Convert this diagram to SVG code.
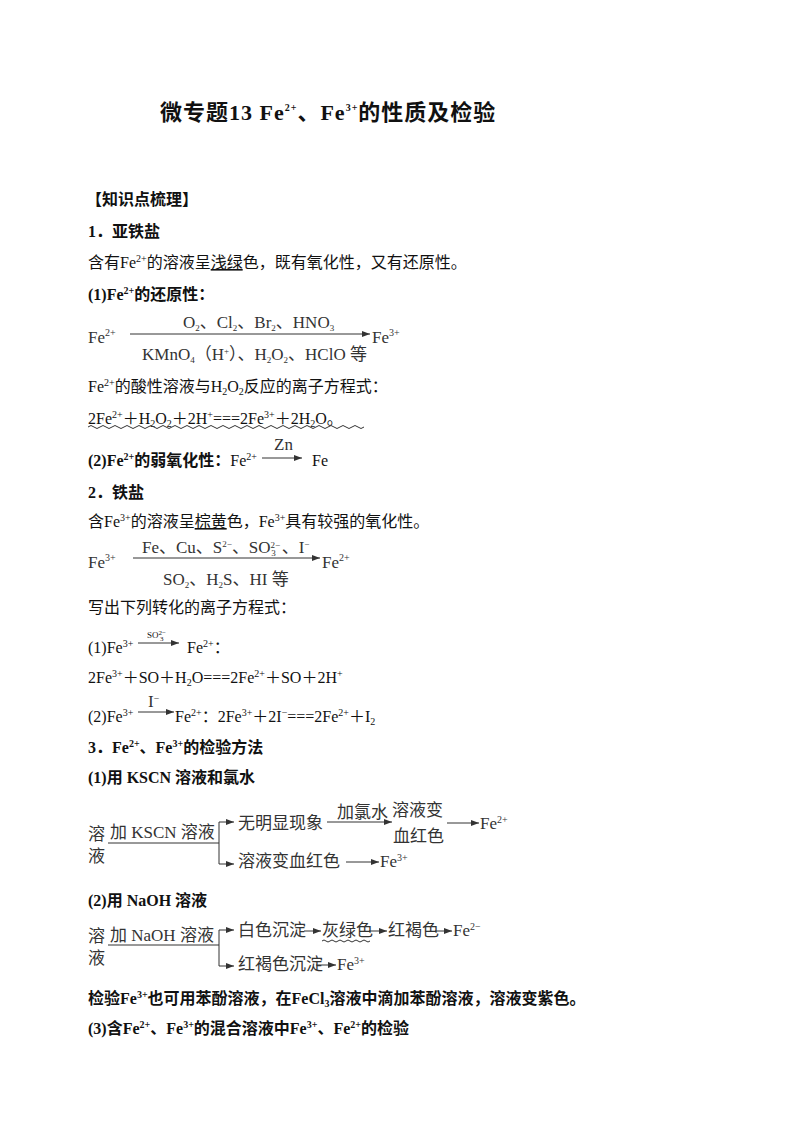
<svg xmlns="http://www.w3.org/2000/svg" width="800" height="1129" viewBox="0 0 800 1129">
<style>
text{font-family:"Liberation Serif","Noto Sans CJK SC",serif;font-size:16px;fill:#111}
.b{font-weight:bold}
.t{font-size:22px;font-weight:bold;letter-spacing:1px}
.d{font-size:17px;fill:#333}
.s{font-size:10px}
.x{font-size:9px}
.l{stroke:#333;stroke-width:1;fill:none}
</style>
<defs><marker id="a" markerWidth="8" markerHeight="6" refX="8" refY="3" orient="auto"><path d="M0,0 L8,3 L0,6 Z" fill="#333"/></marker></defs>
<rect width="800" height="1129" fill="#fff"/>
<g id="title"><text class="t" x="160" y="120">微专题13  Fe<tspan class="s" dy="-9">2+</tspan><tspan dy="9">、Fe</tspan><tspan class="s" dy="-9">3+</tspan><tspan dy="9">的性质及检验</tspan></text></g>
<g id="body">
<text class="b" x="86" y="205">【知识点梳理】</text>
<text class="b" x="88" y="237">1．亚铁盐</text>
<text x="88" y="268">含有Fe<tspan class="s" dy="-6">2+</tspan><tspan dy="6">的溶液呈</tspan><tspan text-decoration="underline">浅绿</tspan>色，既有氧化性，又有还原性。</text>
<text class="b" x="88" y="300">(1)Fe<tspan class="s" dy="-6">2+</tspan><tspan dy="6">的还原性：</tspan></text>
<text class="d" x="88" y="343">Fe<tspan class="s" dy="-7">2+</tspan></text>
<text class="d" x="183" y="328">O<tspan class="x" dy="3">2</tspan><tspan dy="-3">、Cl</tspan><tspan class="x" dy="3">2</tspan><tspan dy="-3">、Br</tspan><tspan class="x" dy="3">2</tspan><tspan dy="-3">、HNO</tspan><tspan class="x" dy="3">3</tspan></text>
<text class="d" x="142" y="360">KMnO<tspan class="x" dy="3">4</tspan><tspan dy="-3">（H</tspan><tspan class="x" dy="-6">+</tspan><tspan dy="6">）、H</tspan><tspan class="x" dy="3">2</tspan><tspan dy="-3">O</tspan><tspan class="x" dy="3">2</tspan><tspan dy="-3">、HClO 等</tspan></text>
<text class="d" x="372" y="343">Fe<tspan class="s" dy="-7">3+</tspan></text>
<text x="88" y="392">Fe<tspan class="s" dy="-6">2+</tspan><tspan dy="6">的酸性溶液与H</tspan><tspan class="s" dy="3">2</tspan><tspan dy="-3">O</tspan><tspan class="s" dy="3">2</tspan><tspan dy="-3">反应的离子方程式：</tspan></text>
<text x="88" y="424">2Fe<tspan class="s" dy="-6">2+</tspan><tspan dy="6">＋H</tspan><tspan class="s" dy="3">2</tspan><tspan dy="-3">O</tspan><tspan class="s" dy="3">2</tspan><tspan dy="-3">＋2H</tspan><tspan class="s" dy="-6">+</tspan><tspan dy="6">===2Fe</tspan><tspan class="s" dy="-6">3+</tspan><tspan dy="6">＋2H</tspan><tspan class="s" dy="3">2</tspan><tspan dy="-3">O。</tspan></text>
<text class="b" x="88" y="466">(2)Fe<tspan class="s" dy="-6">2+</tspan><tspan dy="6">的弱氧化性：</tspan><tspan font-weight="normal">Fe</tspan><tspan class="s" font-weight="normal" dy="-6">2+</tspan></text>
<text class="d" x="274" y="450">Zn</text>
<text x="312" y="466">Fe</text>
<text class="b" x="88" y="498">2．铁盐</text>
<text x="88" y="527">含Fe<tspan class="s" dy="-6">3+</tspan><tspan dy="6">的溶液呈</tspan><tspan text-decoration="underline">棕黄</tspan>色，Fe<tspan class="s" dy="-6">3+</tspan><tspan dy="6">具有较强的氧化性。</tspan></text>
<text class="d" x="88" y="568">Fe<tspan class="s" dy="-7">3+</tspan></text>
<text class="d" x="142" y="553">Fe、Cu、S<tspan class="x" dy="-6">2−</tspan><tspan dy="6">、SO</tspan><tspan class="x" dy="-5">2−</tspan><tspan class="x" dx="-9" dy="8">3</tspan><tspan dx="6" dy="-3">、I</tspan><tspan class="x" dy="-6">−</tspan></text>
<text class="d" x="163" y="585">SO<tspan class="x" dy="3">2</tspan><tspan dy="-3">、H</tspan><tspan class="x" dy="3">2</tspan><tspan dy="-3">S、HI 等</tspan></text>
<text class="d" x="322" y="568">Fe<tspan class="s" dy="-7">2+</tspan></text>
<text x="88" y="613">写出下列转化的离子方程式：</text>
<text x="88" y="653">(1)Fe<tspan class="s" dy="-6">3+</tspan></text>
<text class="x" x="147" y="638">SO<tspan font-size="7" dy="-3">2−</tspan><tspan font-size="7" dx="-6" dy="6">3</tspan></text>
<text x="187" y="653">Fe<tspan class="s" dy="-6">2+</tspan><tspan dy="6">：</tspan></text>
<text x="88" y="683">2Fe<tspan class="s" dy="-6">3+</tspan><tspan dy="6">＋SO＋H</tspan><tspan class="s" dy="3">2</tspan><tspan dy="-3">O===2Fe</tspan><tspan class="s" dy="-6">2+</tspan><tspan dy="6">＋SO＋2H</tspan><tspan class="s" dy="-6">+</tspan></text>
<text x="88" y="722">(2)Fe<tspan class="s" dy="-6">3+</tspan></text>
<text class="d" x="148" y="707">I<tspan class="s" dy="-5">−</tspan></text>
<text x="175" y="722">Fe<tspan class="s" dy="-6">2+</tspan><tspan dy="6">：2Fe</tspan><tspan class="s" dy="-6">3+</tspan><tspan dy="6">＋2I</tspan><tspan class="s" dy="-6">−</tspan><tspan dy="6">===2Fe</tspan><tspan class="s" dy="-6">2+</tspan><tspan dy="6">＋I</tspan><tspan class="s" dy="3">2</tspan></text>
<text class="b" x="88" y="753">3．Fe<tspan class="s" dy="-6">2+</tspan><tspan dy="6">、Fe</tspan><tspan class="s" dy="-6">3+</tspan><tspan dy="6">的检验方法</tspan></text>
<text class="b" x="88" y="783">(1)用 KSCN 溶液和氯水</text>
<text class="d" x="88" y="840">溶</text><text class="d" x="88" y="862">液</text>
<text class="d" x="110" y="838">加 KSCN 溶液</text>
<text class="d" x="238" y="829">无明显现象</text>
<text class="d" x="337" y="818">加氯水</text>
<text class="d" x="392" y="816">溶液变</text>
<text class="d" x="393" y="842">血红色</text>
<text class="d" x="480" y="829">Fe<tspan class="s" dy="-6">2+</tspan></text>
<text class="d" x="238" y="867">溶液变血红色</text>
<text class="d" x="380" y="867">Fe<tspan class="s" dy="-6">3+</tspan></text>
<text class="b" x="88" y="906">(2)用 NaOH 溶液</text>
<text class="d" x="88" y="942">溶</text><text class="d" x="88" y="964">液</text>
<text class="d" x="110" y="941">加 NaOH 溶液</text>
<text class="d" x="238" y="936">白色沉淀</text>
<text class="d" x="322" y="936">灰绿色</text>
<text class="d" x="388" y="936">红褐色</text>
<text class="d" x="453" y="936">Fe<tspan class="s" dy="-6">2−</tspan></text>
<text class="d" x="238" y="970">红褐色沉淀</text>
<text class="d" x="337" y="970">Fe<tspan class="s" dy="-6">3+</tspan></text>
<text class="b" x="88" y="1004">检验Fe<tspan class="s" dy="-6">3+</tspan><tspan dy="6">也可用苯酚溶液，在FeCl</tspan><tspan class="s" dy="3">3</tspan><tspan dy="-3">溶液中滴加苯酚溶液，溶液变紫色。</tspan></text>
<text class="b" x="88" y="1034">(3)含Fe<tspan class="s" dy="-6">2+</tspan><tspan dy="6">、Fe</tspan><tspan class="s" dy="-6">3+</tspan><tspan dy="6">的混合溶液中Fe</tspan><tspan class="s" dy="-6">3+</tspan><tspan dy="6">、Fe</tspan><tspan class="s" dy="-6">2+</tspan><tspan dy="6">的检验</tspan></text>
</g>
<g id="connectors">
<path class="l" d="M130,334 H370" marker-end="url(#a)"/>
<path class="l" d="M88,427 q3,-3 6,0 t6,0 t6,0 t6,0 t6,0 t6,0 t6,0 t6,0 t6,0 t6,0 t6,0 t6,0 t6,0 t6,0 t6,0 t6,0 t6,0 t6,0 t6,0 t6,0 t6,0 t6,0 t6,0 t6,0 t6,0 t6,0 t6,0 t6,0 t6,0 t6,0 t6,0 t6,0 t6,0 t6,0 t6,0 t6,0 t6,0 t6,0 t6,0 t6,0 t6,0 t6,0 t6,0 t6,0 t6,0 t6,0"/>
<path class="l" d="M262,458 H302" marker-end="url(#a)"/>
<path class="l" d="M133,558 H320" marker-end="url(#a)"/>
<path class="l" d="M138,643 H179" marker-end="url(#a)"/>
<path class="l" d="M138,712 H174" marker-end="url(#a)"/>
<path class="l" d="M108,843 H219 M219,822 V864"/>
<path class="l" d="M219,822 H234" marker-end="url(#a)"/>
<path class="l" d="M219,864 H234" marker-end="url(#a)"/>
<path class="l" d="M327,822 H392" marker-end="url(#a)"/>
<path class="l" d="M447,823 H479" marker-end="url(#a)"/>
<path class="l" d="M346,862 H379" marker-end="url(#a)"/>
<path class="l" d="M108,945 H219 M219,930 V966"/>
<path class="l" d="M219,930 H234" marker-end="url(#a)"/>
<path class="l" d="M219,966 H234" marker-end="url(#a)"/>
<path class="l" d="M304,931 H321" marker-end="url(#a)"/>
<path class="l" d="M369,931 H387" marker-end="url(#a)"/>
<path class="l" d="M435,931 H452" marker-end="url(#a)"/>
<path class="l" d="M316,965 H336" marker-end="url(#a)"/>
<path class="l" d="M322,941 q2,-2 4,0 t4,0 t4,0 t4,0 t4,0 t4,0 t4,0 t4,0 t4,0 t4,0 t4,0 t4,0"/>
</g>
</svg>
